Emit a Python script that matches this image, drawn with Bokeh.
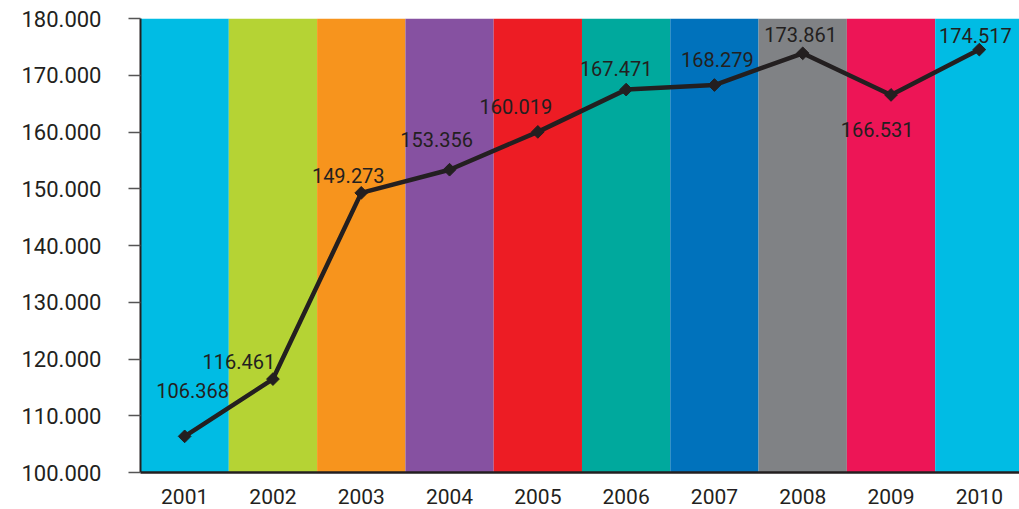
import math
from bokeh.plotting import figure
from bokeh.models import FixedTicker, ColumnDataSource, Range1d
from bokeh.core.properties import value
from bokeh.embed import file_html
from bokeh.resources import INLINE

years = ["2001", "2002", "2003", "2004", "2005", "2006", "2007", "2008", "2009", "2010"]
values = [106.368, 116.461, 149.273, 153.356, 160.019, 167.471, 168.279, 173.861, 166.531, 174.517]
band_colors = ["#00BCE4", "#B5D334", "#F7941D", "#8651A1", "#ED1C24",
               "#00A99D", "#0072BC", "#808285", "#ED1556", "#00BCE4"]
y_ticks = [100, 110, 120, 130, 140, 150, 160, 170, 180]

# label placement (screen pixel offsets relative to each point)
label_dx = [8, -34, -13, -13, -22, -10, 3, -2, -14, -4]
label_dy = [-46, -18, -17, -30, -25, -21, -26, -19, 35, -14]

FONT = "Roboto"
INK = "#231f20"

idx = list(range(len(years)))
src = ColumnDataSource(dict(
    x=idx, v=values, c=band_colors,
    lab=[f"{v:.3f}" for v in values], dx=label_dx, dy=label_dy,
))

p = figure(width=1019, height=509, output_backend="svg", toolbar_location=None,
           x_range=Range1d(-0.5, 9.455), y_range=Range1d(100, 180),
           min_border_left=140, min_border_right=0, min_border_top=18, min_border_bottom=37)
p.outline_line_color = None
p.grid.visible = False
p.background_fill_color = "white"

p.vbar(x="x", width=1.0, top=180, bottom=100, fill_color="c", line_color=None, source=src)
p.line(x="x", y="v", line_color=INK, line_width=4.5, source=src)
p.scatter(x="x", y="v", marker="square", size=9, angle=math.pi / 4,
          fill_color=INK, line_color=INK, source=src)
p.text(x="x", y="v", text="lab", x_offset="dx", y_offset="dy", source=src,
       text_align="center", text_baseline="middle", text_font=value(FONT),
       text_font_size="20px", text_color=INK)

p.yaxis.ticker = FixedTicker(ticks=y_ticks)
p.yaxis.major_label_overrides = {t: f"{t:.3f}" for t in y_ticks}
p.yaxis.axis_line_width = 2
p.yaxis.axis_line_color = INK
p.yaxis.major_tick_out = 12
p.yaxis.major_tick_in = 0
p.yaxis.major_tick_line_color = "#555555"
p.yaxis.major_tick_line_width = 1.5
p.yaxis.minor_tick_line_color = None
p.yaxis.major_label_standoff = 27
p.yaxis.major_label_text_font = FONT
p.yaxis.major_label_text_font_size = "22px"
p.yaxis.major_label_text_font_style = "normal"
p.yaxis.major_label_text_color = INK

p.xaxis.ticker = FixedTicker(ticks=idx)
p.xaxis.major_label_overrides = {i: y for i, y in enumerate(years)}
p.xaxis.axis_line_width = 2.5
p.xaxis.axis_line_color = INK
p.xaxis.major_tick_line_color = None
p.xaxis.minor_tick_line_color = None
p.xaxis.major_label_standoff = 10
p.xaxis.major_label_text_font = FONT
p.xaxis.major_label_text_font_size = "21px"
p.xaxis.major_label_text_font_style = "normal"
p.xaxis.major_label_text_color = INK

open("out.html", "w").write(file_html(p, INLINE))
